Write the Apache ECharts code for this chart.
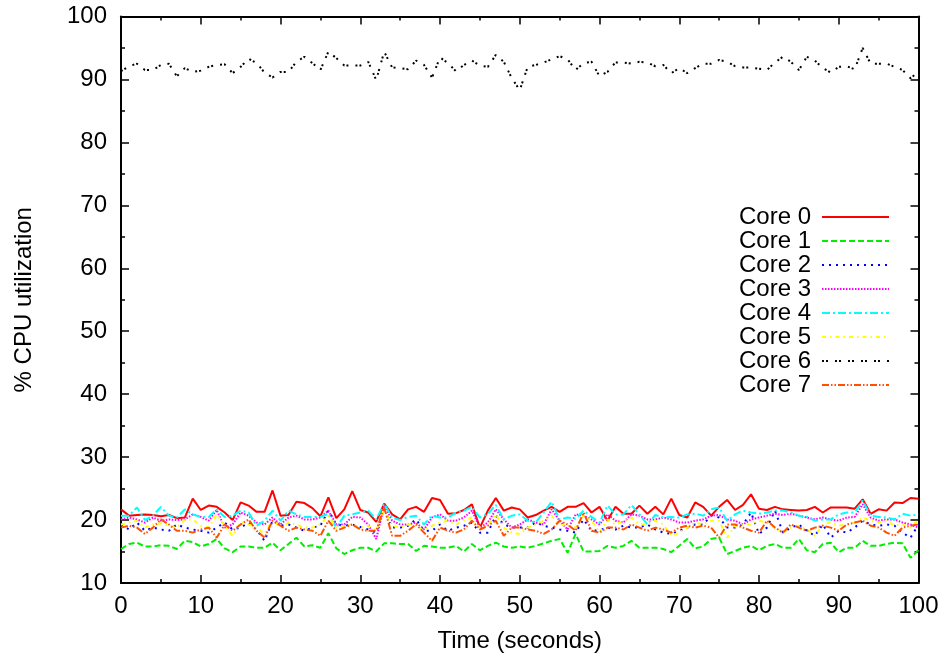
<!DOCTYPE html>
<html>
<head>
<meta charset="utf-8">
<script src="https://cdn.jsdelivr.net/npm/echarts@6/dist/echarts.min.js"></script>
<style>html,body{margin:0;padding:0;background:#fff}#c{width:944px;height:659px}</style>
</head>
<body>
<div id="c"></div>
<script>
const seriesNames = ['Core 0','Core 1','Core 2','Core 3','Core 4','Core 5','Core 6','Core 7'];
const xTicks = [0,10,20,30,40,50,60,70,80,90,100];
const yTicks = [10,20,30,40,50,60,70,80,90,100];

const core0 = [21.7,20.7,20.8,20.9,20.8,20.6,20.8,20.3,20.4,23.4,
 21.6,22.3,22.1,21.2,20.0,22.8,22.3,21.3,21.3,24.7,
 20.7,20.8,22.9,22.7,21.9,20.6,23.6,20.3,21.7,24.6,
 21.6,21.2,19.7,22.6,20.9,20.1,21.7,22.1,21.3,23.5,
 23.2,21.0,21.1,21.6,22.5,18.8,21.5,23.5,21.5,22.0,
 21.7,20.4,20.8,21.5,22.1,21.3,22.1,22.1,22.7,21.2,
 22.1,19.9,22.1,21.0,21.0,22.3,21.0,22.1,20.9,23.4,
 20.8,20.4,22.8,22.1,20.7,22.1,23.2,21.6,22.4,24.1,
 21.8,21.6,22.1,21.7,21.6,21.5,21.6,22.1,21.2,22.0,
 22.0,22.0,21.8,23.3,21.0,21.7,21.5,22.8,22.7,23.5,
 23.4];
const core1 = [15.4,16.2,16.4,15.8,15.8,16.0,15.9,15.4,16.7,16.5,
 15.8,16.2,17.0,15.5,14.9,15.8,15.8,15.6,15.6,16.4,
 15.2,16.2,17.2,15.8,16.0,15.6,17.9,15.5,14.6,15.2,
 15.6,15.6,15.0,16.3,16.3,16.2,16.2,15.1,15.9,15.8,
 15.6,15.6,15.9,15.0,16.2,15.2,15.9,16.4,15.8,15.6,
 15.8,15.6,15.9,16.3,16.7,17.0,14.8,17.8,15.0,15.0,
 15.1,15.9,15.6,15.9,16.7,15.6,15.6,15.6,15.4,14.9,
 15.9,17.0,15.5,15.8,17.0,17.2,14.6,15.1,15.6,15.9,
 15.2,15.9,16.2,15.6,15.6,17.0,15.2,14.9,16.2,16.4,
 14.9,15.6,15.6,16.7,15.9,15.9,16.2,16.4,16.3,14.0,
 15.2];
const core2 = [19.3,18.5,19.6,18.3,18.8,18.5,18.3,19.3,18.8,18.5,
 18.3,18.0,18.8,19.6,18.5,18.8,19.6,18.5,16.7,19.9,
 19.1,19.3,18.8,18.3,18.8,19.1,21.5,19.3,19.1,19.3,
 18.9,18.5,18.0,21.7,18.8,18.8,19.1,20.1,18.3,18.3,
 19.3,18.3,18.8,19.1,19.6,18.0,18.0,20.7,19.3,18.8,
 18.8,18.8,19.6,19.1,18.8,18.5,18.3,18.0,20.1,18.3,
 18.4,18.8,18.5,19.1,18.8,18.8,19.3,18.5,18.0,17.8,
 18.3,18.8,19.3,19.3,20.7,20.4,18.8,18.8,19.3,21.2,
 17.8,18.8,21.5,18.0,18.8,19.3,18.3,17.5,19.3,17.2,
 18.3,18.0,18.8,19.9,19.3,19.1,19.3,19.1,18.0,17.2,
 19.3];
const core3 = [20.1,20.4,20.1,19.6,20.4,19.9,20.1,20.0,20.1,20.9,
 20.5,19.9,21.6,18.8,19.3,21.2,20.7,19.6,19.3,20.4,
 19.3,20.4,20.7,20.1,20.1,20.4,21.5,19.3,19.3,20.5,
 20.4,19.3,17.0,22.3,19.9,19.3,19.3,19.6,18.5,20.4,
 20.9,19.9,19.9,20.4,21.5,18.8,19.6,21.7,20.1,18.8,
 19.3,20.1,19.6,19.3,21.7,19.9,18.5,20.9,20.7,20.1,
 19.3,20.9,19.9,19.6,20.9,20.7,20.1,20.1,20.4,20.1,
 19.6,19.6,19.9,20.1,20.7,20.8,20.1,19.9,19.3,20.1,
 20.4,20.7,21.0,20.8,21.0,20.7,20.4,20.1,20.4,20.1,
 19.9,20.4,20.5,22.5,20.4,19.9,20.1,20.1,19.6,19.3,
 18.8];
const core4 = [20.7,20.7,22.0,20.0,20.7,22.1,20.7,20.4,21.7,20.9,
 20.5,20.5,21.7,20.5,20.7,21.5,21.2,19.1,19.9,21.5,
 19.9,21.5,20.9,20.5,20.5,20.5,21.0,18.8,20.7,20.9,
 21.2,21.5,20.1,22.6,20.4,20.0,20.5,20.7,19.3,20.7,
 20.4,20.4,21.2,21.5,22.1,20.4,21.0,22.4,20.1,20.7,
 20.9,19.9,19.6,21.2,22.9,20.1,20.4,20.2,21.5,20.5,
 19.6,22.3,20.9,20.9,22.4,20.9,19.3,20.8,20.4,20.5,
 20.4,20.9,21.0,20.7,21.7,22.0,19.9,20.9,21.5,21.2,
 21.0,21.2,21.5,21.5,21.2,20.7,20.5,19.9,20.1,20.1,
 20.9,21.2,21.2,23.1,20.7,20.5,20.4,20.1,21.0,20.7,
 20.9];
const core5 = [19.3,19.6,19.9,18.8,19.3,19.5,19.1,18.8,20.0,20.1,
 19.1,18.8,20.9,19.1,17.5,19.6,19.3,18.8,17.8,20.1,
 18.8,19.6,19.3,18.8,18.8,19.3,20.7,18.8,19.1,19.3,
 18.8,19.1,18.3,21.7,19.1,18.8,19.3,19.1,18.3,19.1,
 19.6,19.9,19.3,19.9,20.4,18.8,19.1,20.9,18.8,18.0,
 17.8,18.8,19.3,19.9,20.7,19.3,19.1,18.8,20.7,19.9,
 18.0,20.1,19.3,19.9,20.4,19.3,19.3,19.9,19.3,17.5,
 18.0,18.8,19.6,19.3,19.9,19.9,17.2,19.1,19.3,19.3,
 19.9,19.6,18.8,18.0,18.8,19.1,18.5,17.5,19.3,19.6,
 19.1,19.3,19.6,20.4,19.9,19.6,19.9,19.1,19.3,18.8,
 20.1];
const core6 = [91.3,92.1,92.5,91.5,91.5,92.3,92.5,90.5,91.8,91.2,
 91.4,92.0,92.3,92.4,91.0,92.0,93.3,92.6,91.1,90.3,
 91.2,91.2,92.8,93.6,92.6,91.5,94.4,93.4,92.2,92.2,
 92.2,92.8,89.9,94.4,91.9,91.8,91.6,93.0,92.3,90.3,
 93.5,92.6,91.3,92.3,93.0,92.2,92.0,93.9,92.8,90.2,
 88.3,92.0,92.3,92.7,93.2,93.7,93.2,91.5,92.6,92.8,
 90.5,91.2,92.7,92.7,92.5,92.8,92.7,92.1,92.3,91.0,
 91.8,91.0,91.8,92.5,92.5,93.1,92.8,92.1,91.9,91.9,
 91.7,91.5,92.7,93.6,92.8,91.5,93.6,93.0,91.8,91.1,
 92.0,92.1,91.6,95.0,92.5,92.5,92.5,92.0,91.5,90.2,
 91.2];
const core7 = [18.8,19.1,18.8,17.8,18.8,20.1,19.3,18.3,18.3,18.0,
 18.5,18.8,17.2,19.3,18.3,19.3,20.1,18.3,17.2,19.9,
 19.1,18.3,18.8,18.5,18.3,17.5,19.9,18.3,18.8,19.3,
 18.5,18.3,18.3,22.0,17.5,17.5,18.3,19.3,18.0,16.7,
 18.8,18.3,18.0,18.5,19.9,18.5,19.1,19.9,17.5,18.8,
 18.8,18.5,18.3,17.8,18.5,19.9,19.3,18.3,21.2,18.3,
 18.0,18.8,18.8,18.5,19.3,18.8,18.3,18.8,18.5,18.0,
 18.8,19.1,18.8,19.1,18.8,17.2,19.3,19.3,18.8,18.3,
 18.0,19.9,18.8,18.0,19.3,18.8,18.3,18.8,19.1,18.8,
 18.3,19.3,19.6,19.9,19.1,18.8,18.0,17.5,18.8,19.1,
 19.3];

const allValues = [core0, core1, core2, core3, core4, core5, core6, core7];
const colors = ['#ff0000','#00ee00','#0000ff','#ff00ff','#00ffff','#ffff00','#000000','#ff5000'];
const dashes = ['solid',[6,3],[2,5],[1.5,1.5],[8,3,2,3],[4,4,1.5,4],[2,2,2,7],[7,2,1.5,2,1.5,2]];

const FONT = '"Liberation Sans", Arial, Helvetica, sans-serif';
const FS = 24;
const chart = echarts.init(document.getElementById('c'), null, {renderer: 'canvas'});

function mkAxis(isX, pos, showLabel) {
  const ticks = isX ? xTicks : yTicks;
  return {
    type: 'value',
    position: pos,
    min: ticks[0], max: ticks[ticks.length - 1], interval: 10,
    axisLine: {show: true, onZero: false, lineStyle: {color: '#000', width: 2}},
    axisTick: {show: true, inside: true, length: 8, lineStyle: {color: '#000', width: 1.5}},
    minorTick: {show: true, splitNumber: 2, length: 4, lineStyle: {color: '#000', width: 1.5}},
    splitLine: {show: false},
    axisLabel: {show: showLabel, color: '#000', fontSize: FS, fontFamily: FONT, margin: isX ? 11 : 14},
    name: showLabel ? (isX ? 'Time (seconds)' : '% CPU utilization') : '',
    nameLocation: 'middle',
    nameGap: isX ? 46 : 85,
    nameTextStyle: {color: '#000', fontSize: FS, fontFamily: FONT}
  };
}

chart.setOption({
  animation: false,
  backgroundColor: '#fff',
  grid: {left: 121, right: 25.5, top: 16.5, bottom: 76, containLabel: false},
  xAxis: [mkAxis(true, 'bottom', true), mkAxis(true, 'top', false)],
  yAxis: [mkAxis(false, 'left', true), mkAxis(false, 'right', false)],
  legend: {
    orient: 'vertical', align: 'right',
    right: 54, top: 205, padding: 0,
    itemWidth: 67, itemHeight: 14, itemGap: 0,
    itemStyle: {opacity: 0},
    textStyle: {color: '#000', fontSize: FS, fontFamily: FONT, lineHeight: 24, padding: [0, 6, 0, 0]},
    data: seriesNames
  },
  series: seriesNames.map((name, i) => ({
    name: name,
    type: 'line',
    xAxisIndex: 0, yAxisIndex: 0,
    symbol: 'none', showSymbol: false,
    color: colors[i],
    lineStyle: {color: colors[i], width: 2, type: dashes[i]},
    data: allValues[i].map((v, t) => [t, v])
  }))
});
</script>
</body>
</html>
